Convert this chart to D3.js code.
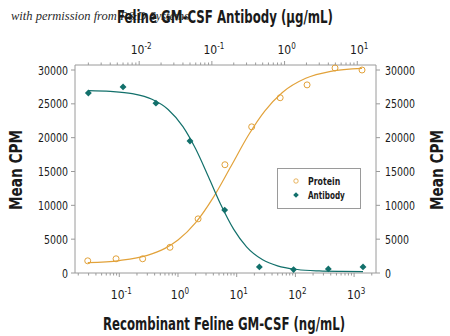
<!DOCTYPE html>
<html>
<head>
<meta charset="utf-8">
<script src="https://cdn.jsdelivr.net/npm/d3@7/dist/d3.min.js"></script>
<style>
  html, body { margin: 0; padding: 0; background: #fff; }
  svg { display: block; }
</style>
</head>
<body>
<svg id="chart" width="450" height="336"></svg>
<script>
// Protein dose-response (recombinant feline GM-CSF, ng/mL) – bottom axis
const proteinDose = [0.029, 0.088, 0.25, 0.73, 2.2, 6.3, 18, 55, 158, 473, 1364];
const proteinCPM  = [1800, 2100, 2100, 3800, 8000, 16000, 21600, 25900, 27800, 30300, 30000];

// Neutralizing antibody (µg/mL) – top axis
const antibodyDose = [0.002, 0.006, 0.017, 0.05, 0.15, 0.45, 1.33, 4, 12];
const antibodyCPM  = [26600, 27500, 25100, 19500, 9300, 900, 500, 600, 900];

// Fitted curves, sampled along each dose range
const proteinFitDose = [0.029, 0.1, 0.3, 0.6, 1, 2, 4, 8, 16, 30, 60, 150, 400, 1364];
const proteinFitCPM  = [1530, 1840, 2600, 3640, 4870, 7440, 11180, 15780, 20430, 23930, 26680, 28770, 29800, 30250];
const antibodyFitDose = [0.002, 0.004, 0.008, 0.015, 0.025, 0.04, 0.06, 0.09, 0.13, 0.2, 0.3, 0.5, 0.8, 1.5, 3, 6, 12];
const antibodyFitCPM  = [26945, 26833, 26498, 25670, 24170, 21630, 18310, 14180, 10310, 6450, 3870, 1957, 1059, 521, 307, 235, 212];

const yTicks = [0, 5000, 10000, 15000, 20000, 25000, 30000];
const bottomDecades = [-1, 0, 1, 2, 3];
const topDecades = [-2, -1, 0, 1];

const colProtein = "#e2a23a";
const colAntibody = "#12706b";
const frameCol = "#9a9a9a";
const textCol = "#1a1a1a";
const font = '"DejaVu Sans Condensed", "Liberation Sans Narrow", sans-serif';

const svg = d3.select("#chart");
const L = 75, R = 376, T = 65, B = 273;

const xBottom = d3.scaleLog().domain([0.0176, 2360]).range([L, R]);
const xTop = d3.scaleLog().domain([0.00131, 18.1]).range([L, R]);
const y = d3.scaleLinear().domain([0, 30000]).range([B, 70]);

// log ticks: majors at powers of ten, minors at 2..9
function logTicks(scale) {
  const [a, b] = scale.domain();
  const out = [];
  for (let k = Math.floor(Math.log10(a)); k <= Math.ceil(Math.log10(b)); k++) {
    for (let m = 1; m <= 9; m++) {
      const v = m * Math.pow(10, k);
      if (v >= a && v <= b) out.push({ v, major: m === 1, k });
    }
  }
  return out;
}

// horizontally condensed text: glyphs squeezed to a width per character
function squeeze(sel, perChar) {
  sel.each(function () {
    const n = this.textContent.length;
    d3.select(this).attr("textLength", n * perChar).attr("lengthAdjust", "spacingAndGlyphs");
  });
}

// credit line (sits under the top title)
svg.append("text").attr("x", 11).attr("y", 20)
  .attr("font-family", '"Liberation Serif", "DejaVu Serif", serif').attr("font-style", "italic")
  .attr("font-size", 12.5).attr("fill", "#2a2a2a")
  .text("with permission from R&D Systems");

const g = svg.append("g");
// frame
g.append("line").attr("x1", L).attr("x2", L).attr("y1", T).attr("y2", B).attr("stroke", frameCol);
g.append("line").attr("x1", R).attr("x2", R).attr("y1", T).attr("y2", B).attr("stroke", frameCol);
g.append("line").attr("x1", L).attr("x2", R).attr("y1", T).attr("y2", T).attr("stroke", frameCol);
g.append("line").attr("x1", L).attr("x2", R).attr("y1", B).attr("y2", B).attr("stroke", frameCol);

// bottom log ticks
g.selectAll(".bt").data(logTicks(xBottom)).join("line")
  .attr("x1", d => xBottom(d.v)).attr("x2", d => xBottom(d.v))
  .attr("y1", B).attr("y2", d => B + (d.major ? 4 : 2.5))
  .attr("stroke", frameCol);
// top log ticks
g.selectAll(".tt").data(logTicks(xTop)).join("line")
  .attr("x1", d => xTop(d.v)).attr("x2", d => xTop(d.v))
  .attr("y1", T).attr("y2", d => T - (d.major ? 4 : 2.5))
  .attr("stroke", frameCol);

// y ticks both sides
g.selectAll(".yl").data(yTicks).join("line")
  .attr("x1", L - 4).attr("x2", L).attr("y1", d => y(d)).attr("y2", d => y(d)).attr("stroke", frameCol);
g.selectAll(".yr").data(yTicks).join("line")
  .attr("x1", R).attr("x2", R + 4).attr("y1", d => y(d)).attr("y2", d => y(d)).attr("stroke", frameCol);

// y tick labels
g.selectAll(".ylab").data(yTicks).join("text")
  .attr("x", L - 7).attr("y", d => y(d)).attr("dy", "0.36em")
  .attr("text-anchor", "end").attr("font-family", font).attr("font-size", 12.5).attr("fill", textCol)
  .text(d => d).call(squeeze, 6);
g.selectAll(".yrlab").data(yTicks).join("text")
  .attr("x", R + 9).attr("y", d => y(d)).attr("dy", "0.36em")
  .attr("text-anchor", "start").attr("font-family", font).attr("font-size", 12.5).attr("fill", textCol)
  .text(d => d).call(squeeze, 6);

// power-of-ten labels
function powLabels(sel, decades, scale, yPos) {
  const t = sel.selectAll(null).data(decades).join("text")
    .attr("x", d => scale(Math.pow(10, d)) + 2).attr("y", yPos)
    .attr("text-anchor", "middle").attr("font-family", font).attr("font-size", 12).attr("fill", textCol);
  t.append("tspan").text("10");
  t.append("tspan").attr("dy", -5).attr("font-size", 8).text(d => String(d));
}
powLabels(g, bottomDecades, xBottom, 299);
powLabels(g, topDecades, xTop, 54);

// fitted curves
const line = (xs) => d3.line().x(d => xs(d[0])).y(d => y(d[1])).curve(d3.curveMonotoneX);
g.append("path").datum(d3.zip(proteinFitDose, proteinFitCPM))
  .attr("d", line(xBottom)).attr("fill", "none").attr("stroke", colProtein).attr("stroke-width", 1.2);
g.append("path").datum(d3.zip(antibodyFitDose, antibodyFitCPM))
  .attr("d", line(xTop)).attr("fill", "none").attr("stroke", colAntibody).attr("stroke-width", 1.2);

// points
g.selectAll(".pp").data(d3.zip(proteinDose, proteinCPM)).join("circle")
  .attr("cx", d => xBottom(d[0])).attr("cy", d => y(d[1])).attr("r", 3)
  .attr("fill", "none").attr("stroke", colProtein).attr("stroke-width", 1);
const diamond = d3.symbol().type(d3.symbolDiamond2).size(30);
g.selectAll(".ap").data(d3.zip(antibodyDose, antibodyCPM)).join("path")
  .attr("transform", d => `translate(${xTop(d[0])},${y(d[1])})`)
  .attr("d", diamond).attr("fill", colAntibody);

// legend
const lg = g.append("g");
lg.append("rect").attr("x", 277.5).attr("y", 168.5).attr("width", 83).attr("height", 40)
  .attr("fill", "#fff").attr("stroke", frameCol);
lg.append("circle").attr("cx", 296).attr("cy", 181).attr("r", 2.2)
  .attr("fill", "none").attr("stroke", colProtein).attr("stroke-width", 0.8);
lg.append("path").attr("transform", "translate(296,195)").attr("d", d3.symbol().type(d3.symbolDiamond2).size(20)).attr("fill", colAntibody);
lg.append("text").attr("x", 308).attr("y", 181).attr("dy", "0.35em")
  .attr("font-family", font).attr("font-size", 10).attr("font-weight", "bold").attr("fill", textCol)
  .text("Protein").call(squeeze, 4.6);
lg.append("text").attr("x", 308).attr("y", 195).attr("dy", "0.35em")
  .attr("font-family", font).attr("font-size", 10).attr("font-weight", "bold").attr("fill", textCol)
  .text("Antibody").call(squeeze, 4.6);

// axis titles
const title = (t, len) => t.attr("text-anchor", "middle").attr("font-family", font).attr("font-weight", "bold")
  .attr("font-size", 17).attr("fill", textCol).attr("textLength", len).attr("lengthAdjust", "spacingAndGlyphs");
g.append("text").attr("x", 224).attr("y", 330).text("Recombinant Feline GM-CSF (ng/mL)").call(title, 242);
g.append("text").attr("x", 225).attr("y", 23).text("Feline GM-CSF Antibody (μg/mL)").call(title, 216);
g.append("text").attr("transform", "translate(22,170) rotate(-90)").text("Mean CPM").call(title, 80);
g.append("text").attr("transform", "translate(443,170) rotate(-90)").text("Mean CPM").call(title, 80);
</script>
</body>
</html>
